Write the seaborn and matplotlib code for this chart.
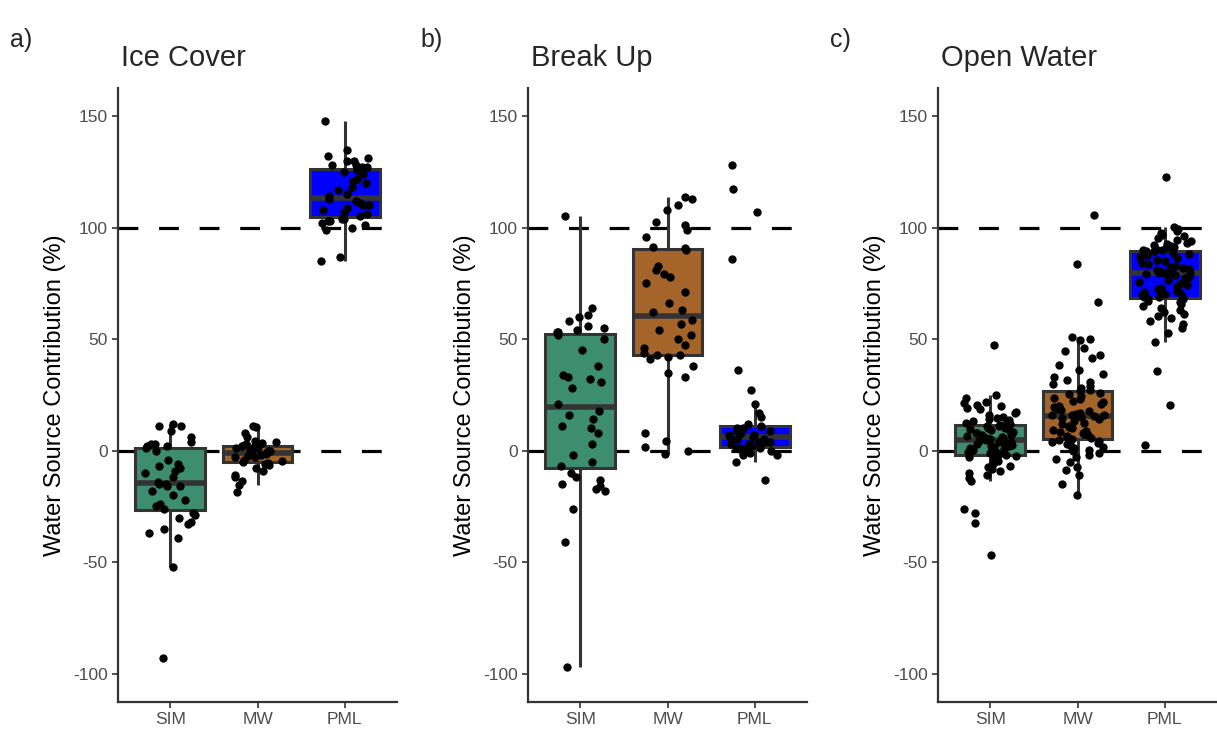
import numpy as np
import pandas as pd
import matplotlib
matplotlib.use("Agg")
import matplotlib.pyplot as plt
import seaborn as sns

sns.set_style("white")
plt.rcParams['font.family'] = ['Liberation Sans', 'DejaVu Sans']
plt.rcParams['axes.unicode_minus'] = False

sources = ["SIM", "MW", "PML"]
colors = ["#3D8E70", "#A5642A", "#0000FF"]
titles = ["Ice Cover", "Break Up", "Open Water"]
letters = ["a)", "b)", "c)"]
yticks = [-100, -50, 0, 50, 100, 150]

# Ice Cover
ice_sim = [12, 11, 11, 9, 6, 4, 3, 3, 2, 2, 1, -4, -6, -7, -8, -9, -10, -12, -14, -15,
           -15, -16, -16, -18, -20, -22, -24, -25, -26, -28, -29, -30, -32, -33, -35, -37,
           -39, -52, -93, 0]
ice_mw = [11, 10.5, 8, 6, 4.5, 4, 3.5, 3, 3, 2.5, 2, 2, 1.5, 1, 1, 0.5, 0, 0, -0.5, -1,
          -1, -1.5, -2, -2, -2.5, -3, -3, -4, -4.5, -5, -5.5, -6, -6.5, -8, -9, -11, -12,
          -13.5, -15.5, -18.5]
ice_pml = [148, 135, 132, 131, 130, 130, 128, 128, 127, 127, 126, 125, 124, 122, 121, 120,
           118, 117, 115, 114, 113, 112, 111, 110, 110, 109, 108, 107, 106, 105, 104, 104,
           103, 103, 102, 101, 100, 99, 87, 85]

# Break Up
brk_sim = [105, 64, 61, 60, 58, 56, 55, 54, 53, 53, 52, 50, 45, 38, 34, 33, 32, 31, 28, 21,
           18, 16, 14, 11, 10, 8, 3, -2, -5, -7, -10, -12, -13, -15, -16, -17, -18, -26,
           -41, -97]
brk_mw = [113.8, 113, 110, 108, 102.6, 101, 99, 96, 91.3, 91, 90, 83, 81, 79, 78, 75, 71,
          66, 63, 62, 58.4, 57, 54, 52, 50, 47.5, 46, 44, 43, 43, 42, 41, 38, 35, 33, 8,
          4.5, 1.5, 0, -1.5]
brk_pml = [128, 117.5, 107, 86, 36, 27, 21, 17, 15, 12, 11, 10, 10, 9, 9, 8, 8, 7, 7, 6, 6,
           5, 5, 4, 4, 4, 3, 3, 2, 2, 1, 1, 1, 0, 0, -1, -2, -2, -5, -13]

# Open Water
ow_sim = [47.2, 25.1, 23.4, 22.0, 21.3, 20.6, 19.8, 19.2, 18.5, 17.4, 16.9, 16.1, 15.3,
          14.8, 14.0, 13.6, 13.1, 12.7, 12.4, 12.0,
          11.6, 11.2, 10.9, 10.3, 10.0, 9.6, 9.1, 8.8, 8.3, 7.9, 7.7, 7.2, 6.8, 6.5, 6.1,
          5.8, 5.5, 5.2, 5.0, 4.8, 4.5, 4.1, 3.8, 3.5, 3.2, 2.9, 2.5, 2.2, 1.9, 1.6, 1.2,
          0.9, 0.5, 0.2, -0.1, -0.4, -0.8, -1.1, -1.5, -1.9,
          -2.3, -2.8, -3.4, -4.0, -4.6, -5.3, -6.0, -6.8, -7.5, -8.4, -9.2, -10.1, -11.0,
          -12.2, -13.4, -26.1, -27.8, -32.6, -46.9, -3.7]
ow_mw = [105.6, 83.5, 66.6, 50.8, 50.2, 49.5, 46.0, 44.6, 43.0, 41.5, 38.2, 36.0, 34.5,
         33.1, 31.8, 30.6, 29.7, 28.9, 28.0, 27.3,
         26.6, 26.0, 25.2, 24.5, 23.8, 23.1, 22.4, 21.6, 20.9, 20.1, 19.5, 18.8, 18.2,
         17.6, 17.1, 16.6, 16.3, 16.0, 15.9, 15.8, 15.6, 15.2, 14.6, 14.0, 13.3, 12.5,
         11.9, 11.2, 10.6, 10.0, 9.4, 8.9, 8.3, 7.8, 7.3, 6.8, 6.4, 6.0, 5.6, 5.3,
         4.9, 4.5, 4.0, 3.4, 2.8, 2.2, 1.6, 1.0, 0.4, -0.3, -1.0, -1.8, -2.7, -3.9, -5.2,
         -7.5, -8.6, -11.0, -15.1, -19.8]
ow_pml = [122.8, 100.3, 99.2, 98.4, 97.6, 96.9, 96.1, 95.3, 94.6, 94.0, 93.3, 92.7, 92.1,
          91.6, 91.2, 90.8, 90.4, 90.1, 89.8, 89.6,
          89.3, 88.8, 88.2, 87.5, 86.9, 86.2, 85.6, 85.0, 84.3, 83.7, 83.0, 82.4, 81.9,
          81.3, 80.8, 80.4, 80.1, 79.8, 79.6, 79.5, 79.4, 79.1, 78.6, 78.0, 77.3, 76.5,
          75.8, 75.0, 74.3, 73.6, 72.9, 72.3, 71.8, 71.2, 70.6, 70.1, 69.7, 69.3, 69.0, 68.7,
          68.4, 67.9, 67.2, 66.5, 65.7, 64.8, 63.9, 63.0, 62.1, 61.2, 60.3, 59.4, 58.2,
          56.8, 54.9, 52.6, 48.7, 35.8, 20.6, 2.4]

panels = [(ice_sim, ice_mw, ice_pml), (brk_sim, brk_mw, brk_pml), (ow_sim, ow_mw, ow_pml)]

fig = plt.figure(figsize=(12.17, 7.29), dpi=100)
lefts = [118 / 1217, 528 / 1217, 938 / 1217]
np.random.seed(3)

for i, (left, groups) in enumerate(zip(lefts, panels)):
    ax = fig.add_axes([left, 27 / 729, 279 / 1217, 614 / 729])
    rows = []
    for src, vals in zip(sources, groups):
        for v in vals:
            rows.append((src, v))
    df = pd.DataFrame(rows, columns=["source", "value"])

    # reference lines at 0% and 100%
    ax.axhline(0, color="black", lw=2.3, dashes=(6.2, 6.5), zorder=0.5)
    ax.axhline(100, color="black", lw=2.3, dashes=(6.2, 6.5), zorder=0.5)

    sns.boxplot(data=df, x="source", y="value", hue="source", order=sources,
                hue_order=sources, palette=colors, saturation=1, width=0.8,
                linecolor="#333333", linewidth=2.2, showfliers=False, showcaps=False,
                medianprops=dict(linewidth=4, color="#333333"),
                legend=False, ax=ax, zorder=1)
    sns.stripplot(data=df, x="source", y="value", order=sources, color="black",
                  jitter=0.3, size=6, linewidth=0, ax=ax, zorder=3)

    ax.set_xlim(-0.6, 2.6)
    ax.set_ylim(-112.7, 162.6)
    ax.set_yticks(yticks)
    ax.set_yticklabels([str(t) for t in yticks])
    ax.set_xlabel("")
    ax.set_ylabel("Water Source Contribution (%)", fontsize=17, color="black", labelpad=5)
    ax.tick_params(axis="both", colors="#333333", labelcolor="#4D4D4D", labelsize=12.5,
                   length=4, width=1.2, left=True, bottom=True)
    for s in ["top", "right"]:
        ax.spines[s].set_visible(False)
    for s in ["left", "bottom"]:
        ax.spines[s].set_color("#333333")
        ax.spines[s].set_linewidth(1.6)
    ax.set_title(titles[i], loc="left", fontsize=21, pad=16, x=0.012)
    fig.text(left - 108 / 1217, 1 - 40 / 729, letters[i], fontsize=18, va="center", ha="left")

fig.savefig("out.png", dpi=100, facecolor="white")
